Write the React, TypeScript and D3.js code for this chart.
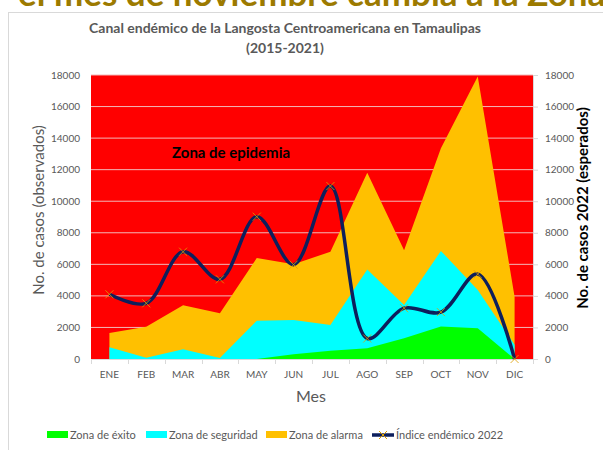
import React from 'react'
import * as d3 from 'd3'

const months = ['ENE', 'FEB', 'MAR', 'ABR', 'MAY', 'JUN', 'JUL', 'AGO', 'SEP', 'OCT', 'NOV', 'DIC']
// upper limit of each zone (cases observed 2015-2021)
const alarma = [1650, 2050, 3400, 2900, 6400, 6000, 6800, 11800, 6900, 13350, 17900, 3950]
const seguridad = [750, 80, 620, 60, 2420, 2470, 2150, 5680, 3420, 6850, 4380, 900]
const exito = [0, 0, 0, 0, 0, 300, 520, 680, 1320, 2060, 1950, 0]
// expected 2022
const indice2022 = [4100, 3530, 6800, 5050, 9020, 5980, 10960, 1300, 3220, 2970, 5380, 0]
const yTicks = [0, 2000, 4000, 6000, 8000, 10000, 12000, 14000, 16000, 18000]

const font = 'Lato, "Open Sans", sans-serif'
const grey = '#595959'

const App = () => {
  const left = 91
  const right = 533
  const top = 75
  const bottom = 359

  const x = d3.scaleBand().domain(months).range([left, right])
  const cx = (m: string) => (x(m) as number) + x.bandwidth() / 2
  const y = d3.scaleLinear().domain([0, 18000]).range([bottom, top])
  const y2 = d3.scaleLinear().domain([0, 18000]).range([bottom, top])

  const area = d3
    .area<number>()
    .x((_, i) => cx(months[i]))
    .y0(y(0))
    .y1(d => y(d))

  const line = d3
    .line<number>()
    .x((_, i) => cx(months[i]))
    .y(d => y2(d))
    .curve(d3.curveCatmullRom.alpha(0.5))

  const legend = [
    { label: 'Zona de éxito', color: '#00ff00', x: 47 },
    { label: 'Zona de seguridad', color: '#00ffff', x: 146 },
    { label: 'Zona de alarma', color: '#ffc000', x: 266 },
  ]

  return (
    <svg width={603} height={450} style={{ position: 'absolute', left: 0, top: 0 }} fontFamily={font}>
      <rect width={603} height={450} fill="#fff" />
      {/* slide heading cut off at top */}
      <text x={18} y={6} fontSize={35} fontWeight="bold" fill="#9c7a00">
        el mes de noviembre cambia a la Zona
      </text>
      <line x1={8.5} y1={12} x2={8.5} y2={450} stroke="#d9d9d9" />
      <line x1={8} y1={12.5} x2={603} y2={12.5} stroke="#d9d9d9" />

      {/* title */}
      <text x={285} y={33} textAnchor="middle" fontSize={14} fontWeight="bold" fill={grey}>
        Canal endémico de la Langosta Centroamericana en Tamaulipas
      </text>
      <text x={285} y={53} textAnchor="middle" fontSize={14} fontWeight="bold" fill={grey}>
        (2015-2021)
      </text>

      {/* zona de epidemia background */}
      <rect x={left} y={top} width={right - left} height={bottom - top} fill="#ff0000" />
      {yTicks.slice(1).map(t => (
        <line key={t} x1={left} x2={right} y1={y(t)} y2={y(t)} stroke="#f2b8b8" strokeWidth={1} />
      ))}
      <text x={172} y={158} fontSize={15} fontWeight="bold" fill="#000">
        Zona de epidemia
      </text>

      <path d={area(alarma) as string} fill="#ffc000" />
      <path d={area(seguridad) as string} fill="#00ffff" />
      <path d={area(exito) as string} fill="#00ff00" />

      {/* x axis */}
      <line x1={left} x2={right} y1={bottom + 0.5} y2={bottom + 0.5} stroke="#d9d9d9" />
      {d3.range(months.length + 1).map(i => {
        const xx = Math.round(left + i * x.bandwidth()) + 0.5
        return <line key={i} x1={xx} x2={xx} y1={bottom} y2={bottom + 5} stroke="#d9d9d9" />
      })}
      {months.map(m => (
        <text key={m} x={cx(m)} y={378} textAnchor="middle" fontSize={10} fill={grey}>
          {m}
        </text>
      ))}
      <text x={311} y={402} textAnchor="middle" fontSize={16} fill={grey}>
        Mes
      </text>

      {/* left axis */}
      {yTicks.map(t => (
        <text key={t} x={80} y={y(t) + 3.5} textAnchor="end" fontSize={10} fill={grey}>
          {t}
        </text>
      ))}
      <text
        transform={`translate(44, 210) rotate(-90)`}
        textAnchor="middle"
        fontSize={15}
        fill={grey}
      >
        No. de casos (observados)
      </text>

      {/* right axis */}
      <line x1={right + 0.5} x2={right + 0.5} y1={top} y2={bottom} stroke="#d9d9d9" />
      {yTicks.map(t => (
        <g key={t}>
          <line x1={right} x2={right + 5} y1={y2(t) + 0.5} y2={y2(t) + 0.5} stroke="#d9d9d9" />
          <text x={545} y={y2(t) + 3.5} fontSize={10} fill={grey}>
            {t}
          </text>
        </g>
      ))}
      <text
        transform={`translate(588, 208) rotate(-90)`}
        textAnchor="middle"
        fontSize={15}
        fontWeight="bold"
        fill="#000"
      >
        No. de casos 2022 (esperados)
      </text>

      {/* indice endemico 2022 */}
      <path d={line(indice2022) as string} fill="none" stroke="#0d1f5c" strokeWidth={3.5} />
      {indice2022.map((v, i) => {
        const px = cx(months[i])
        const py = y2(v)
        return (
          <path
            key={i}
            d={`M${px - 4},${py - 4}L${px + 4},${py + 4}M${px - 4},${py + 4}L${px + 4},${py - 4}`}
            stroke="#e0a000"
            strokeWidth={1}
            strokeOpacity={0.8}
          />
        )
      })}

      {/* legend */}
      {legend.map(l => (
        <g key={l.label}>
          <rect x={l.x} y={431} width={21} height={7} fill={l.color} />
          <text x={l.x + 23} y={439} fontSize={11} fill={grey}>
            {l.label}
          </text>
        </g>
      ))}
      <line x1={372} x2={394} y1={435} y2={435} stroke="#0d1f5c" strokeWidth={3.5} />
      <path d="M379,431L387,439M379,439L387,431" stroke="#e0a000" strokeWidth={1} />
      <text x={396} y={439} fontSize={11} fill={grey}>
        Índice endémico 2022
      </text>
    </svg>
  )
}

export default App
